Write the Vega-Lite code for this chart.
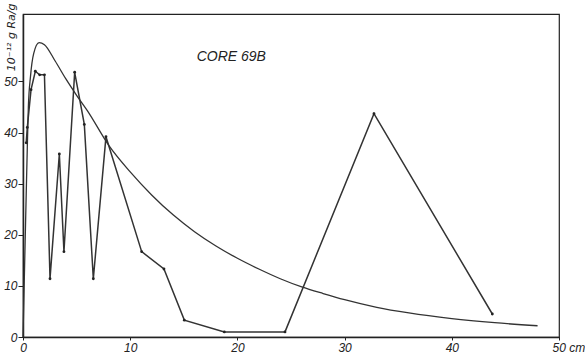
{
  "$schema": "https://vega.github.io/schema/vega-lite/v6.json",
  "width": 536,
  "height": 323,
  "autosize": {"type": "none"},
  "padding": {"left": 23, "top": 14, "right": 26, "bottom": 27},
  "background": "white",
  "config": {
    "view": {"stroke": "#222", "strokeWidth": 1.2},
    "font": "Liberation Sans"
  },
  "datasets": {
    "curve": [
      {"depth": 0, "ra": 0}, {"depth": 0.15, "ra": 14}, {"depth": 0.3, "ra": 28}, {"depth": 0.4, "ra": 37},
      {"depth": 0.5, "ra": 45}, {"depth": 0.7, "ra": 51}, {"depth": 1.0, "ra": 55.5}, {"depth": 1.5, "ra": 57.6},
      {"depth": 2.0, "ra": 57.2}, {"depth": 3.0, "ra": 54}, {"depth": 4.0, "ra": 50.5}, {"depth": 5.0, "ra": 47.3},
      {"depth": 6.0, "ra": 44.3}, {"depth": 8.0, "ra": 37.5}, {"depth": 10, "ra": 32.3}, {"depth": 12, "ra": 27.8},
      {"depth": 14, "ra": 23.9}, {"depth": 16, "ra": 20.6}, {"depth": 18, "ra": 17.8}, {"depth": 20, "ra": 15.4},
      {"depth": 22, "ra": 13.3}, {"depth": 24, "ra": 11.4}, {"depth": 26, "ra": 9.8}, {"depth": 28, "ra": 8.5},
      {"depth": 30, "ra": 7.3}, {"depth": 33, "ra": 5.8}, {"depth": 36, "ra": 4.7}, {"depth": 40, "ra": 3.6},
      {"depth": 44, "ra": 2.8}, {"depth": 48, "ra": 2.2}
    ],
    "samples": [
      {"depth": 0.3, "ra": 38}, {"depth": 0.4, "ra": 41}, {"depth": 0.75, "ra": 48.4}, {"depth": 1.15, "ra": 52},
      {"depth": 1.55, "ra": 51.3}, {"depth": 2.0, "ra": 51.3}, {"depth": 2.52, "ra": 11.4}, {"depth": 3.39, "ra": 35.8},
      {"depth": 3.82, "ra": 16.7}, {"depth": 4.82, "ra": 51.8}, {"depth": 5.72, "ra": 41.6}, {"depth": 6.56, "ra": 11.4},
      {"depth": 7.74, "ra": 39.2}, {"depth": 11.07, "ra": 16.7}, {"depth": 13.15, "ra": 13.3}, {"depth": 15.05, "ra": 3.3},
      {"depth": 18.78, "ra": 1.0}, {"depth": 24.44, "ra": 1.0}, {"depth": 32.74, "ra": 43.7}, {"depth": 43.78, "ra": 4.5}
    ],
    "labels": [
      {"depth": 16.2, "ra": 54.8, "label": "CORE 69B"}
    ]
  },
  "layer": [
    {
      "data": {"name": "curve"},
      "mark": {"type": "line", "interpolate": "monotone", "color": "#333", "strokeWidth": 1.3},
      "encoding": {
        "x": {
          "field": "depth", "type": "quantitative",
          "scale": {"domain": [0, 50], "nice": false, "zero": false},
          "axis": {
            "values": [0, 10, 20, 30, 40, 50], "grid": false, "title": null,
            "domainColor": "#222", "domainWidth": 1.5, "tickColor": "#222", "tickSize": 3,
            "labelFontStyle": "italic", "labelFontSize": 12, "labelColor": "#222", "labelPadding": 2,
            "labelExpr": "datum.value == 50 ? '50 cm' : datum.label",
            "labelAlign": {"condition": {"test": "datum.value == 50", "value": "left"}, "value": "center"},
            "labelOffset": {"condition": {"test": "datum.value == 50", "value": -7}, "value": 0}
          }
        },
        "y": {
          "field": "ra", "type": "quantitative",
          "scale": {"domain": [0, 63.2], "nice": false},
          "axis": {
            "values": [0, 10, 20, 30, 40, 50], "grid": false,
            "title": "10⁻¹² g Ra/g", "titleFont": "DejaVu Sans", "titleFontStyle": "italic", "titleFontWeight": "normal",
            "titleFontSize": 11, "titleColor": "#222", "titleAngle": -90,
            "titleX": -12, "titleY": -11, "titleAlign": "right", "titleBaseline": "middle",
            "domainColor": "#222", "domainWidth": 1.5, "tickColor": "#222", "tickSize": 5,
            "labelFontStyle": "italic", "labelFontSize": 12, "labelColor": "#222", "labelPadding": 1
          }
        }
      }
    },
    {
      "data": {"name": "samples"},
      "mark": {"type": "line", "color": "#333", "strokeWidth": 1.5, "point": {"filled": true, "color": "#222", "size": 8}},
      "encoding": {
        "x": {"field": "depth", "type": "quantitative"},
        "y": {"field": "ra", "type": "quantitative"}
      }
    },
    {
      "data": {"name": "labels"},
      "mark": {"type": "text", "align": "left", "baseline": "middle", "fontStyle": "italic", "fontSize": 14, "color": "#222"},
      "encoding": {
        "text": {"field": "label", "type": "nominal"},
        "x": {"field": "depth", "type": "quantitative"},
        "y": {"field": "ra", "type": "quantitative"}
      }
    }
  ]
}
